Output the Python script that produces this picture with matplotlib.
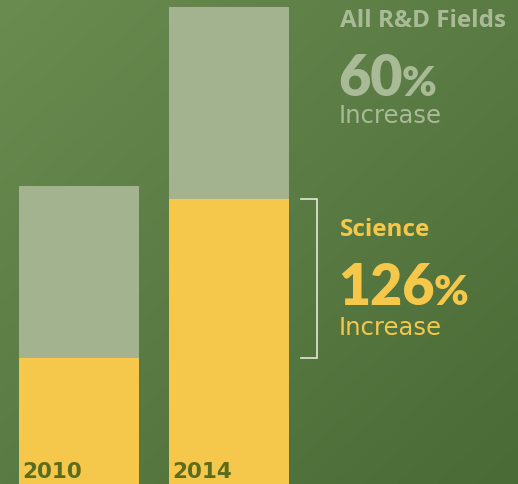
import matplotlib
matplotlib.use("Agg")
import matplotlib.pyplot as plt
import numpy as np

# data (2010 total = 100)
years = ["2010", "2014"]
all_fields = [100.0, 160.0]
science = [42.3, 95.6]
labels = ["All R&D Fields", "Science"]
increases = ["60", "126"]

W, H = 518, 484
bar_grey = "#a3b38f"
yellow = "#f5c84c"
text_grey = "#a9ba97"
year_col = "#5b6c1f"

fig = plt.figure(figsize=(W / 100, H / 100), dpi=100)

# background gradient
bg = fig.add_axes([0, 0, 1, 1])
xx, yy = np.meshgrid(np.linspace(0, 1, 200), np.linspace(0, 1, 200))
t = (xx + yy) / 2
c0 = np.array([0x6a, 0x8c, 0x50]) / 255
c1 = np.array([0x4a, 0x6a, 0x36]) / 255
img = c0[None, None, :] * (1 - t[..., None]) + c1[None, None, :] * t[..., None]
bg.imshow(img, extent=[0, 1, 0, 1], aspect="auto", origin="upper")
bg.axis("off")

ax = fig.add_axes([0, 0, 1, 1])
ax.patch.set_alpha(0)
x = np.arange(len(years))
ax.bar(x, all_fields, width=0.8, color=bar_grey)
ax.bar(x, science, width=0.8, color=yellow)
ax.set_xlim(-79 / 150, (W - 79) / 150)
ax.set_ylim(0, H / 2.98)
ax.axis("off")

for xi, yr in zip(x, years):
    ax.text(xi - 0.375, 6 / 2.98, yr, fontsize=15.5, fontweight="bold", family="DejaVu Sans",
            color=year_col, va="baseline", ha="left")

# bracket around science growth
bx = 1 + 0.4 + 12 / 150
bx2 = 1 + 0.4 + 28 / 150
ax.plot([bx, bx2, bx2, bx], [science[1], science[1], science[0], science[0]],
        color="#e3e8dc", lw=1.2, solid_joinstyle="miter")


def px(xp, yp):
    return xp / W, 1 - yp / H


def block(top_label, num, color, y_lab, y_num, y_inc):
    fig.text(*px(340, y_lab), top_label, fontsize=17.5, fontweight="bold",
             family="Open Sans", color=color, va="baseline")
    t_num = fig.text(*px(338, y_num), num, fontsize=40, fontweight="heavy",
                     family="Lato", color=color, va="baseline")
    fig.canvas.draw()
    ext = t_num.get_window_extent()
    fig.text((ext.x1 - 1) / W, 1 - y_num / H, "%", fontsize=30, fontweight="heavy",
             family="Lato", color=color, va="baseline")
    fig.text(*px(339, y_inc), "Increase", fontsize=17.5, family="DejaVu Sans",
             color=color, va="baseline")


block(labels[0], increases[0], text_grey, 27, 96, 123)
block(labels[1], increases[1], yellow, 236, 305, 335)

fig.savefig("out.png", dpi=100)
